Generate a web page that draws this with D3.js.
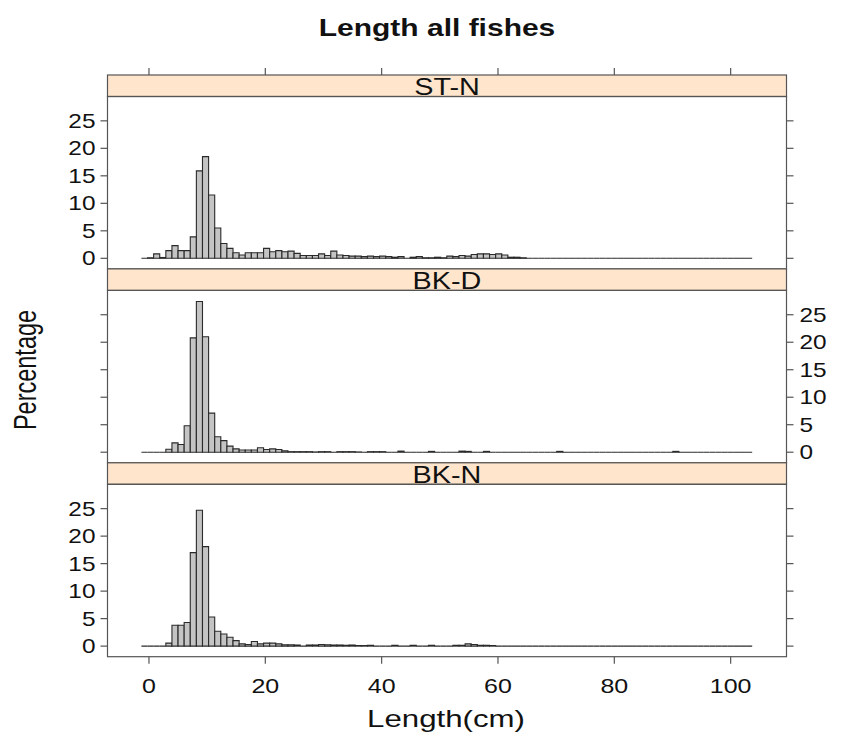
<!DOCTYPE html>
<html>
<head>
<meta charset="utf-8">
<script src="https://cdn.jsdelivr.net/npm/d3@7"></script>
<style>
  body { margin: 0; background: #fff; }
  svg text { font-family: "Liberation Sans", Arial, sans-serif; fill: #111; }
</style>
</head>
<body>
<div id="chart"></div>
<script>
// histogram breaks (cm) and percentage per bin
const binStart = -1.3;
const binWidth = 1.05;
const panelNames = ["ST-N", "BK-D", "BK-N"];

const pctSTN = [0, 0.1, 0.8, 0.15, 1.4, 2.3, 1.4, 1.4, 3.9, 15.9,
  18.5, 11.5, 5.5, 2.7, 1.8, 1.0, 0.6, 1.0, 1.0, 1.0,
  1.8, 1.2, 1.4, 1.2, 1.3, 0.9, 0.5, 0.5, 0.5, 0.8,
  0.5, 1.3, 0.6, 0.5, 0.4, 0.4, 0.3, 0.4, 0.3, 0.4,
  0.3, 0.2, 0.3, 0, 0.2, 0.3, 0.1, 0.1, 0.2, 0.1,
  0.4, 0.3, 0.5, 0.4, 0.7, 0.8, 0.8, 0.7, 0.8, 0.6,
  0.2, 0.2, 0.1, 0, 0, 0, 0, 0, 0, 0,
  0, 0, 0, 0, 0, 0, 0, 0, 0, 0,
  0, 0, 0, 0, 0, 0, 0, 0, 0, 0,
  0, 0, 0, 0, 0, 0, 0, 0, 0, 0];

const pctBKD = [0, 0, 0, 0, 0.55, 1.7, 1.4, 4.8, 20.8, 27.4,
  21.0, 7.1, 2.8, 2.1, 1.1, 0.6, 0.4, 0.4, 0.4, 0.8,
  0.5, 0.6, 0.5, 0.25, 0.1, 0.1, 0.1, 0.1, 0.05, 0.1,
  0.1, 0, 0.1, 0.1, 0.1, 0.05, 0, 0.1, 0.1, 0.1,
  0, 0, 0.2, 0, 0, 0, 0, 0.15, 0, 0,
  0, 0, 0.2, 0.15, 0, 0, 0.15, 0, 0, 0,
  0, 0, 0, 0, 0, 0, 0, 0, 0.15, 0,
  0, 0, 0, 0, 0, 0, 0, 0, 0, 0,
  0, 0, 0, 0, 0, 0, 0, 0.15, 0, 0,
  0, 0, 0, 0, 0, 0, 0, 0, 0, 0];

const pctBKN = [0, 0, 0, 0, 0.55, 3.8, 3.8, 4.3, 17.0, 24.7,
  18.1, 5.3, 2.7, 2.2, 1.6, 1.0, 0.4, 0.3, 0.85, 0.4,
  0.55, 0.55, 0.4, 0.25, 0.25, 0.2, 0, 0.2, 0.2, 0.3,
  0.25, 0.2, 0.2, 0.15, 0.2, 0.1, 0.1, 0.15, 0, 0,
  0, 0.15, 0, 0, 0.15, 0, 0, 0.15, 0, 0,
  0, 0.15, 0.15, 0.4, 0.3, 0.15, 0.15, 0.1, 0, 0,
  0, 0, 0, 0, 0, 0, 0, 0, 0, 0,
  0, 0, 0, 0, 0, 0, 0, 0, 0, 0,
  0, 0, 0, 0, 0, 0, 0, 0, 0, 0,
  0, 0, 0, 0, 0, 0, 0, 0, 0, 0];

const panelData = [pctSTN, pctBKD, pctBKN];
const xTicks = [0, 20, 40, 60, 80, 100];
const yTicks = [0, 5, 10, 15, 20, 25];

const width = 854, height = 743;

const svg = d3.select("#chart").append("svg")
    .attr("width", width)
    .attr("height", height);

const left = 107.5, right = 786.5;
const top0 = 75, stripH = 21.5, panelH = 172.4;

const x = d3.scaleLinear().domain([-7.13, 109.6]).range([left, right]);

// the picture is wider than tall, so glyphs are stretched sideways
function addText(g, tx, ty, str, size, anchor, sx, opts) {
    opts = opts || {};
    let tr = "translate(" + tx + "," + ty + ")";
    if (opts.rotate) tr += " rotate(" + opts.rotate + ") scale(1," + sx + ")";
    else tr += " scale(" + sx + ",1)";
    let t = g.append("text")
        .attr("transform", tr)
        .attr("text-anchor", anchor)
        .style("font-size", size + "px")
        .text(str);
    if (opts.bold) t.style("font-weight", "bold");
    return t;
}

// title
addText(svg, 437, 36, "Length all fishes", 24, "middle", 1.25, {bold: true});

panelNames.forEach(function(name, i) {
    let stripTop = top0 + i * (stripH + panelH);
    let pTop = stripTop + stripH;
    let pBottom = pTop + panelH;

    let y = d3.scaleLinear().domain([-1.925, 29.425]).range([pBottom, pTop]);
    let g = svg.append("g");

    // strip
    g.append("rect")
        .attr("x", left).attr("y", stripTop)
        .attr("width", right - left).attr("height", stripH)
        .attr("fill", "#ffe5cc")
        .attr("stroke", "#555").attr("stroke-width", 1.2);
    addText(g, (left + right) / 2, stripTop + stripH - 1.5, name, 24, "middle", 1.2);

    // bars (zero bins are drawn too, as flat lines)
    let bins = panelData[i].map(function(v, k) {
        return {x0: binStart + k * binWidth, x1: binStart + (k + 1) * binWidth, pct: v};
    });
    g.selectAll("path.bar")
        .data(bins)
        .enter()
        .append("path")
        .attr("class", "bar")
        .attr("d", function(d) {
            return "M" + x(d.x0) + "," + y(0) + "V" + y(d.pct) + "H" + x(d.x1) + "V" + y(0) + "Z";
        })
        .attr("fill", "#c4c4c4")
        .attr("stroke", "#2a2a2a")
        .attr("stroke-width", 1.1);

    // panel box
    g.append("rect")
        .attr("x", left).attr("y", pTop)
        .attr("width", right - left).attr("height", panelH)
        .attr("fill", "none")
        .attr("stroke", "#555").attr("stroke-width", 1.2);

    // y ticks on both sides, labels alternate
    g.selectAll("line.ytl")
        .data(yTicks).enter().append("line")
        .attr("x1", left - 7).attr("x2", left)
        .attr("y1", d => y(d)).attr("y2", d => y(d))
        .attr("stroke", "#555").attr("stroke-width", 1.2);
    g.selectAll("line.ytr")
        .data(yTicks).enter().append("line")
        .attr("x1", right).attr("x2", right + 7)
        .attr("y1", d => y(d)).attr("y2", d => y(d))
        .attr("stroke", "#555").attr("stroke-width", 1.2);

    yTicks.forEach(function(t) {
        if (i === 1) {
            addText(g, right + 13, y(t) + 7, t, 20, "start", 1.22);
        } else {
            addText(g, left - 12, y(t) + 7, t, 20, "end", 1.22);
        }
    });

    // x ticks top and bottom
    if (i === 0) {
        g.selectAll("line.xtt")
            .data(xTicks).enter().append("line")
            .attr("x1", d => x(d)).attr("x2", d => x(d))
            .attr("y1", stripTop - 7).attr("y2", stripTop)
            .attr("stroke", "#555").attr("stroke-width", 1.2);
    }
    if (i === panelNames.length - 1) {
        g.selectAll("line.xtb")
            .data(xTicks).enter().append("line")
            .attr("x1", d => x(d)).attr("x2", d => x(d))
            .attr("y1", pBottom).attr("y2", pBottom + 7)
            .attr("stroke", "#555").attr("stroke-width", 1.2);
        xTicks.forEach(function(t) {
            addText(g, x(t), pBottom + 36, t, 20, "middle", 1.25);
        });
    }
});

// axis titles
addText(svg, 446, 727, "Length(cm)", 23.5, "middle", 1.33);
addText(svg, 36, 370, "Percentage", 23.5, "middle", 1.3, {rotate: -90});
</script>
</body>
</html>
